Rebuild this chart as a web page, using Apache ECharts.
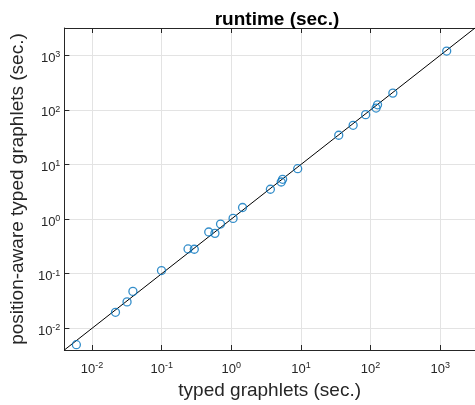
<!DOCTYPE html>
<html>
<head>
<meta charset="utf-8">
<script src="https://cdn.jsdelivr.net/npm/echarts@6/dist/echarts.min.js"></script>
<style>
  html, body { margin: 0; padding: 0; background: #fff; }
  #chart { width: 475px; height: 405px; }
</style>
</head>
<body>
<div id="chart"></div>
<script>
// typed graphlets (x) vs position-aware typed graphlets (y), seconds
const typedTimes = [
  0.00595, 0.0217, 0.0318, 0.0386, 0.0993, 0.239, 0.294, 0.474, 0.582, 0.70,
  1.06, 1.45, 3.64, 5.21, 5.46, 8.98, 34.9, 56.2, 85, 120, 126, 209, 1240,
];
const positionAwareTimes = [
  0.0050, 0.0196, 0.0304, 0.0474, 0.114, 0.284, 0.28, 0.58, 0.548, 0.81,
  1.03, 1.63, 3.52, 4.78, 5.35, 8.38, 34.3, 52.2, 81.8, 108, 124, 203, 1197,
];
const axisMin = 0.004;
const axisMax = 3162;

const chart = echarts.init(document.getElementById('chart'));
const font = 'Liberation Sans, Arial, Helvetica, sans-serif';
const textColor = '#262626';

const expLabel = (v) => {
  const e = Math.round(Math.log10(v));
  return '{b|10}{s|' + e + '}';
};
const richLabel = {
  b: { fontSize: 13, fontFamily: font, color: textColor, lineHeight: 16 },
  s: { fontSize: 9, fontFamily: font, color: textColor, verticalAlign: 'top', lineHeight: 10 },
};

const baseAxis = {
  type: 'log',
  logBase: 10,
  min: axisMin,
  max: axisMax,
  axisLine: { show: true, onZero: false, lineStyle: { color: textColor, width: 1 } },
  axisTick: { show: true, inside: true, length: 5, lineStyle: { color: textColor } },
  minorTick: { show: false },
  splitLine: { show: true, lineStyle: { color: '#e3e3e3', width: 1 } },
};

const points = typedTimes.map((x, i) => [x, positionAwareTimes[i]]);

const option = {
  animation: false,
  title: {
    text: 'runtime (sec.)',
    left: 272,
    textAlign: 'center',
    top: 5,
    textStyle: { fontSize: 19, fontWeight: 'bold', fontFamily: font, color: '#000' },
  },
  grid: { left: 63, top: 28, right: -6, bottom: 53 },
  xAxis: [
    {
      ...baseAxis,
      position: 'bottom',
      name: 'typed graphlets (sec.)',
      nameLocation: 'middle',
      nameGap: 31,
      nameTextStyle: { fontSize: 19, fontFamily: font, color: textColor },
      axisLabel: {
        formatter: expLabel,
        rich: richLabel,
        margin: 11,
        showMinLabel: false,
        showMaxLabel: false,
      },
    },
    {
      ...baseAxis,
      position: 'top',
      splitLine: { show: false },
      axisLabel: { show: false },
    },
  ],
  yAxis: [
    {
      ...baseAxis,
      position: 'left',
      name: 'position-aware typed graphlets (sec.)',
      nameLocation: 'middle',
      nameGap: 31,
      nameTextStyle: { fontSize: 19, fontFamily: font, color: textColor },
      axisLabel: {
        formatter: expLabel,
        rich: richLabel,
        margin: 4,
        padding: [6, 0, 0, 0],
        showMinLabel: false,
        showMaxLabel: false,
      },
    },
  ],
  series: [
    {
      type: 'line',
      xAxisIndex: 0,
      yAxisIndex: 0,
      data: [[axisMin, axisMin], [axisMax, axisMax]],
      showSymbol: false,
      lineStyle: { color: '#000', width: 1 },
      silent: true,
      z: 1,
    },
    {
      type: 'scatter',
      xAxisIndex: 0,
      yAxisIndex: 0,
      data: points,
      symbol: 'circle',
      symbolSize: 8,
      itemStyle: { color: 'rgba(0,0,0,0)', borderColor: '#0072BD', borderWidth: 1.3 },
      z: 3,
    },
  ],
};

chart.setOption(option);
</script>
</body>
</html>
